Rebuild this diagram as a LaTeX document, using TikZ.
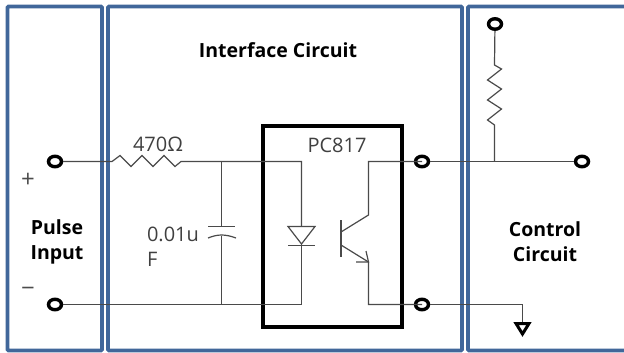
\documentclass[tikz,border=0pt]{standalone}
\usepackage{fontspec}
\setmainfont{Open Sans}
\usetikzlibrary{shapes.geometric}
\definecolor{panelblue}{HTML}{41679A}
\definecolor{wiregray}{HTML}{4A4A4A}
\begin{document}
\begin{tikzpicture}[x=1pt,y=-1pt,
  panel/.style = {draw=panelblue, line width=3.6pt, rounded corners=1pt},
  wire/.style = {draw=wiregray, line width=1.2pt},
  pin/.style = {draw=black, ellipse, line width=3.4pt, minimum width=13pt, minimum height=10.5pt, inner sep=0pt},
  title/.style = {font=\fontsize{19.5}{25}\selectfont\bfseries, align=center, text=black},
  label/.style = {font=\fontsize{20}{25}\selectfont, text=black!75, align=left}]
\useasboundingbox (0,0) rectangle (624,353);
% panels
\draw[panel] (7.5,6.5) rectangle (102,350.5);
\draw[panel] (108,6.5) rectangle (462,350.5);
\draw[panel] (626,6.5) -- (468,6.5) -- (468,350.5) -- (626,350.5);
\node[title] (pulse) at (57,242) {Pulse\\Input};
\node[title] (iface) at (278,50) {Interface Circuit};
\node[title] (ctrl) at (545,242) {Control\\Circuit};
% chip
\node[draw, line width=3.8pt, minimum width=139pt, minimum height=201pt, inner sep=0pt] (chip) at (332.5,226.5) {};
\node[label] (part) at (337,145) {PC817};
\node[label] (res) at (158,144) {470Ω};
\node[label] (cap) at (173,247) {0.01u\\F};
\node[font=\fontsize{24}{24}\selectfont, text=black!70] (plus) at (28,180) {+};
\node[font=\fontsize{24}{24}\selectfont, text=black!70] (minus) at (28,292) {−};
% terminals
\node[pin] (a) at (55,161.5) {};
\node[pin] (b) at (55,304.5) {};
\node[pin] (c) at (422,161.5) {};
\node[pin] (d) at (422,304.5) {};
\node[pin] (e) at (495,24) {};
\node[pin] (f) at (582,161.5) {};
% junctions
\coordinate (r1) at (110,161.5);
\coordinate (r2) at (183,161.5);
\coordinate (j1) at (221.5,161.5);
\coordinate (j2) at (221.5,304.5);
\coordinate (k) at (301.5,161.5);
\coordinate (l) at (301.5,304.5);
\coordinate (col) at (368.5,161.5);
\coordinate (emi) at (368.5,304.5);
\coordinate (j3) at (494.5,161.5);
\coordinate (gnd) at (522.5,304.5);
% input side
\draw[wire] (a) -- (r1) -- (112,161.5) -- ++(8,-6) -- ++(11,11) -- ++(11,-11) -- ++(11,11) -- ++(11,-11) -- ++(11,11) -- ++(6,-5) -- (r2) -- (j1) -- (k) -- (301.5,226);
\draw[wire] (301.5,244) -- (l) -- (b);
\draw[wire] (j1) -- (221.5,226);
\draw[wire] (221.5,236) -- (j2);
\draw[wire] (208,226.5) -- (235,226.5);
\draw[wire] (208,238) .. controls (218,234) and (225,234) .. (236,238);
% diode
\draw[wire] (288,226.5) -- (315,226.5) -- (301.5,244) -- cycle;
\draw[wire] (288,245.5) -- (315,245.5);
% transistor
\draw[wire] (341,220) -- (341,257);
\draw[wire] (341,232) -- (368.5,215) -- (col) -- (c.center);
\draw[wire] (341,245) -- (368.5,262) -- (emi) -- (d.center);
\draw[wire] (356,262) -- (368.5,262) -- (366,251);
% output side
\draw[wire] (c) -- (j3) -- (f);
\draw[wire] (e) -- (494.5,65) -- ++(7,4) -- ++(-14,11) -- ++(14,9) -- ++(-14,11) -- ++(14,9) -- ++(-14,11) -- ++(7,5) -- (j3);
\draw[wire] (d) -- (gnd) -- (522.5,322);
\draw[draw=black, line width=3pt] (516,323.5) -- (529,323.5) -- (522.5,334) -- cycle;
\end{tikzpicture}
\end{document}
